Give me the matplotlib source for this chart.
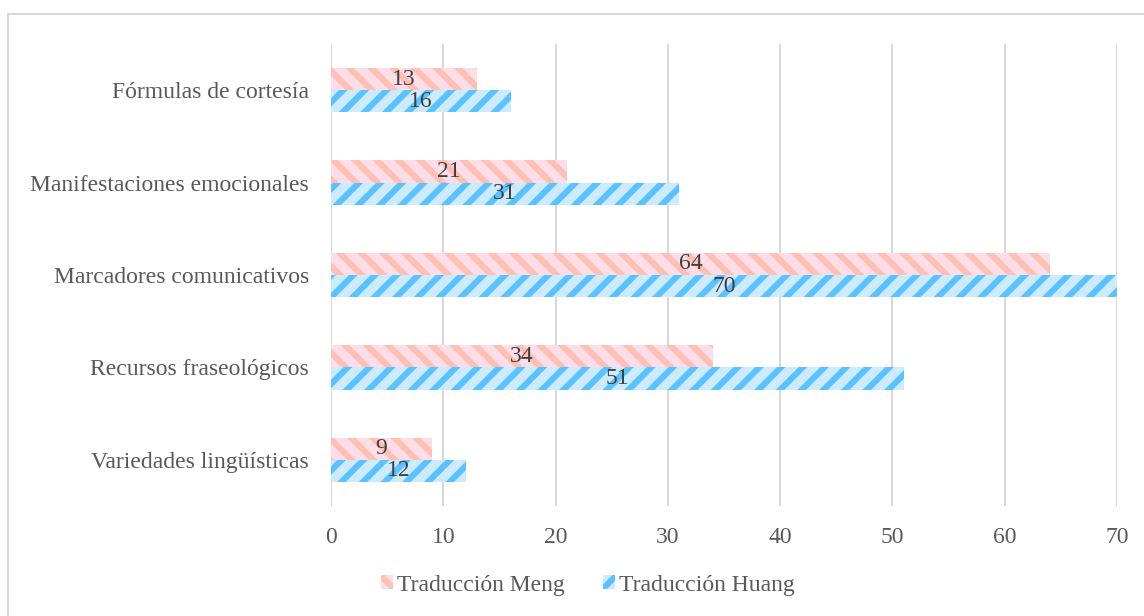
import numpy as np
import matplotlib.pyplot as plt
from matplotlib.patches import Rectangle

DPI = 130  # hatch spacing follows dpi, 130 gives the stripe spacing of the original
W, H = 1144, 616

plt.rcParams['font.family'] = ['Liberation Serif', 'DejaVu Serif']
plt.rcParams['hatch.linewidth'] = 3.4

categories = ['Variedades lingüísticas', 'Recursos fraseológicos', 'Marcadores comunicativos',
              'Manifestaciones emocionales', 'Fórmulas de cortesía']
meng = [9, 34, 64, 21, 13]
huang = [12, 51, 70, 31, 16]
series_names = ['Traducción Meng', 'Traducción Huang']

text_color = '#595959'
grid_color = '#D9D9D9'
fs = 13.1


def px(v):
    return v * 72 / DPI


fig = plt.figure(figsize=(W / DPI, H / DPI), dpi=DPI)
ax = fig.add_axes([331 / W, 1 - 506 / H, (1117 - 331) / W, (506 - 44) / H])

# frame around the whole chart
fig.patches.append(Rectangle((8 / W, -0.01), 1.02, 1 - 14 / H + 0.01, transform=fig.transFigure,
                             fill=False, edgecolor='#D9D9D9', linewidth=px(2)))

y = np.arange(len(categories))
h = 0.24
b1 = ax.barh(y + h / 2, meng, height=h, color='#FDDDE8', edgecolor='#FFBFB3', hatch='\\\\', linewidth=0)
b2 = ax.barh(y - h / 2, huang, height=h, color='#CCEBFF', edgecolor='#5CC2FF', hatch='//', linewidth=0)

for bars, vals in ((b1, meng), (b2, huang)):
    for rect, v in zip(bars, vals):
        ax.text(v / 2, rect.get_y() + rect.get_height() / 2, str(v), ha='center', va='center',
                fontsize=fs, color='#404040')

ax.set_xlim(0, 70)
ax.set_ylim(-0.5, len(categories) - 0.5)
ax.set_xticks(np.arange(0, 71, 10))
ax.set_yticks(y)
ax.set_yticklabels(categories)
ax.tick_params(length=0, labelsize=fs, colors=text_color)
ax.tick_params(axis='x', pad=px(21))
ax.tick_params(axis='y', pad=px(22))
ax.xaxis.grid(True, color=grid_color, linewidth=px(2))
ax.set_axisbelow(True)
for s in ax.spines.values():
    s.set_visible(False)

fig.legend([b1, b2], series_names, loc='center', bbox_to_anchor=(588 / W, 1 - 585 / H),
           ncol=2, frameon=False, fontsize=fs, handlelength=0.5, handleheight=0.5,
           handletextpad=0.2, columnspacing=1.6, labelcolor=text_color)

fig.savefig('out.png', dpi=DPI)
